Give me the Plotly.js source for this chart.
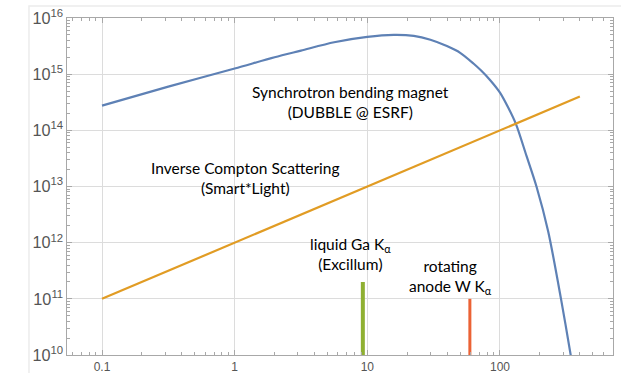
<!DOCTYPE html>
<html><head><meta charset="utf-8">
<script src="https://cdn.plot.ly/plotly-3.0.1.min.js"></script>
</head><body style="margin:0">
<div id="chart" style="width:621px;height:373px"></div>
<script>
// Synchrotron bending magnet (DUBBLE @ ESRF): photon energy (keV) vs flux
const synchEnergy = [0.1, 0.316, 1, 2.0, 3.16, 5.62, 10, 15.8, 22.4, 29.9, 39.8, 50.1, 63.1, 72.4, 84.1, 100, 114.8, 131.8, 158.5, 188.4, 230.7, 288.4, 341.2, 363];
const synchFlux   = [2.75e14, 6.0e14, 1.26e15, 2.0e15, 2.63e15, 3.7e15, 4.6e15, 5.0e15, 4.8e15, 4.1e15, 3.16e15, 2.4e15, 1.55e15, 1.15e15, 7.9e14, 4.7e14, 2.6e14, 1.3e14, 3.5e13, 1.0e13, 1.6e12, 1.0e11, 1.0e10, 4.0e9];
// Inverse Compton Scattering (Smart*Light)
const icsEnergy = [0.1, 400];
const icsFlux   = [1e11, 4e14];
// Liquid Ga K-alpha (Excillum)
const gaEnergy = [9.25, 9.25];
const gaFlux   = [1e9, 2e11];
// Rotating anode W K-alpha
const wEnergy = [59.3, 59.3];
const wFlux   = [1e9, 1e11];

const xTickVals = [0.1, 1, 10, 100];
const xTickText = ['0.1', '1', '10', '100'];

const traces = [
  {x: synchEnergy, y: synchFlux, mode: 'lines', line: {color: '#5E81B5', width: 2.2, shape: 'spline', smoothing: 0.8}},
  {x: icsEnergy, y: icsFlux, mode: 'lines', line: {color: '#E19C24', width: 2.2}},
  {x: gaEnergy, y: gaFlux, mode: 'lines', line: {color: '#8FB032', width: 4}},
  {x: wEnergy, y: wFlux, mode: 'lines', line: {color: '#EB6235', width: 3}}
];

const axisCommon = {
  showgrid: true, gridcolor: '#dcdcdc', gridwidth: 1,
  showline: true, linecolor: '#a8a8a8', linewidth: 1.2, mirror: 'ticks',
  ticks: 'inside', ticklen: 5, tickcolor: '#a8a8a8',
  zeroline: false,
  minor: {ticks: 'inside', ticklen: 3, tickcolor: '#a8a8a8', dtick: 'D1', showgrid: false},
  tickfont: {family: 'Liberation Sans, Arial, sans-serif', size: 12, color: '#555555'}
};

const annFont = {size: 15.5, family: 'Lato, sans-serif', color: '#000'};
function ann(px, py, text) {
  return {xref: 'paper', yref: 'paper', x: (px - 67) / 546, y: (355 - py) / 337, xanchor: 'center', yanchor: 'middle',
          text: text, showarrow: false, font: annFont, align: 'center'};
}

const layout = {
  width: 621, height: 373,
  margin: {l: 67, r: 8, t: 18, b: 18},
  paper_bgcolor: '#ffffff', plot_bgcolor: '#ffffff',
  showlegend: false,
  xaxis: Object.assign({}, axisCommon, {type: 'log', range: [-1.264, 2.852], tickmode: 'array', tickvals: xTickVals, ticktext: xTickText, ticklabelstandoff: 0}),
  yaxis: Object.assign({}, axisCommon, {type: 'log', range: [10, 16], dtick: 1, exponentformat: 'power', tickfont: {family: 'Liberation Sans, Arial, sans-serif', size: 13, color: '#555555'}}),
  font: {family: 'Lato, Liberation Sans, sans-serif', color: '#000'},
  shapes: [
    {type: 'rect', xref: 'paper', yref: 'paper', x0: -0.0696, x1: 1.2, y0: -0.3, y1: 1.0356, line: {color: '#ececec', width: 1.5}, layer: 'below'}
  ],
  annotations: [
    ann(350, 102, 'Synchrotron bending magnet<br>(DUBBLE @ ESRF)'),
    ann(245, 178, 'Inverse Compton Scattering<br>(Smart*Light)'),
    ann(350, 254, 'liquid Ga K<sub>α</sub><br>(Excillum)'),
    ann(450, 277, 'rotating<br>anode W K<sub>α</sub>')
  ]
};

Plotly.newPlot('chart', traces, layout, {displayModeBar: false, staticPlot: true});
</script>
</body></html>
